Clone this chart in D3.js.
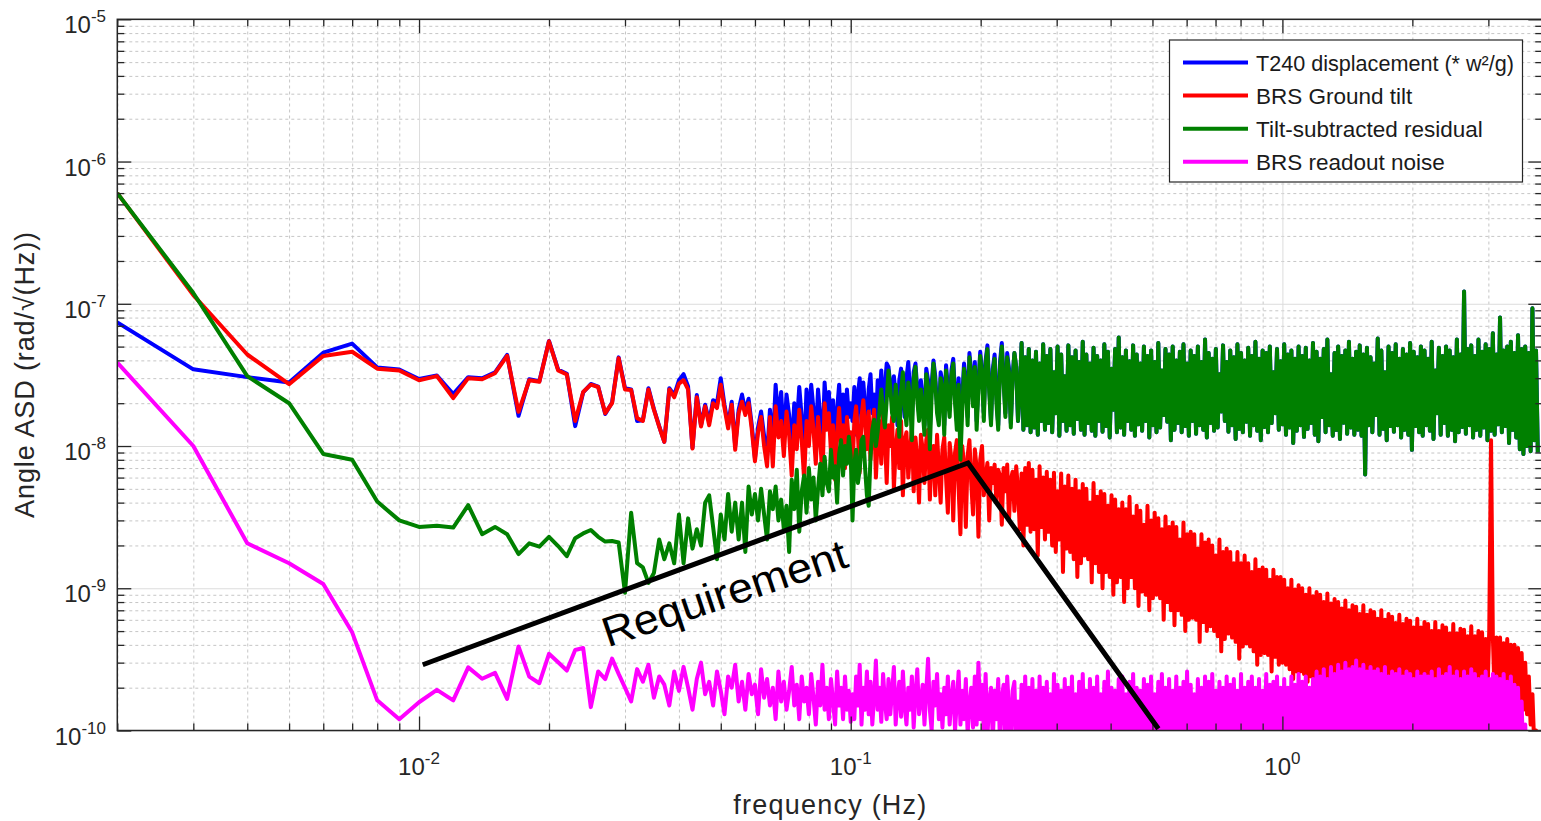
<!DOCTYPE html>
<html>
<head>
<meta charset="utf-8">
<script src="https://cdn.jsdelivr.net/npm/d3@7"></script>
<style>
  html, body { margin: 0; padding: 0; background: #ffffff; }
  svg { display: block; }
  text { font-family: "Liberation Sans", Arial, Helvetica, sans-serif; fill: #262626; }
</style>
</head>
<body>
<svg id="chart" width="1541" height="821"></svg>
<script>
// ---------------------------------------------------------------------------
// Spectra, in units of 1e-10 rad/sqrt(Hz).
// Low band: one value per 0.001 Hz bin, from 0.002 Hz to 0.100 Hz.
// High band: 240 values per decade, starting one step above 0.1 Hz.
// ---------------------------------------------------------------------------
const UNIT = 1e-10;
const BIN_HZ = 0.001;
const LOW_FIRST_BIN = 2;
const HIGH_START_HZ = 0.1;
const HIGH_PER_DECADE = 240;

const t240Low = [740,346,305,280,453,525,357,345,296,313,
  232,305,299,330,438,163,295,285,548,345,
  322,138,238,273,262,168,202,420,255,250,
  150,152,255,182,138,107,255,228,290,320,
  262,97,228,140,195,148,210,200,300,195,
  140,205,100,180,230,175,215,140,82,135,
  175,118,85,180,100,270,150,240,110,230,
  165,95,200,140,260,160,90,250,150,270,
  180,110,250,160,100,280,170,240,120,210,
  100,180,270,140,230,110,250,160,200];

const brsTiltLow = [6000,1150,440,272,430,460,350,340,290,310,
  217,300,295,325,430,174,290,283,545,340,
  318,150,240,270,260,170,200,415,250,248,
  157,150,250,180,137,107,250,220,275,290,
  250,96,220,137,190,140,200,185,270,185,
  133,195,94,170,205,165,200,130,78,125,
  160,100,72,160,72,190,115,150,85,175,
  120,62,140,95,180,110,58,150,100,190,
  130,75,160,110,60,200,130,170,90,140,
  58,120,185,100,140,70,160,110,125];

const residualLow = [6000,1190,310,200,88,80,40.7,30,27,27.5,
  26.7,38.4,24,27,24,17.4,20.7,19.6,23,19.8,
  16.8,22.5,24.3,25.7,23,21.3,21.5,21,9.3,34,
  15,14,10.9,12.8,22,16,20.7,15,33,15,
  31,19,26,20,40,45,27,16,33,22,
  46,25,40,22,40,18,52,33,46,30,
  50,33,22,48,36,52,30,42,26,38,
  18,58,36,68,25,48,62,34,70,42,
  60,30,50,75,45,84,55,48,94,60,
  72,40,88,110,62,100,75,116,85];

const readoutLow = [386,100,20.7,15,10.7,4.9,1.63,1.2,1.58,1.93,
  1.63,2.78,2.31,2.54,1.67,3.9,2.39,2.15,3.46,3.02,
  2.64,3.68,3.8,1.46,2.6,2.3,3.2,2.5,2.0,1.6,
  2.7,2.2,2.9,1.7,2.4,2.1,1.5,2.6,1.9,2.8,
  2.0,1.4,2.3,3.0,1.8,2.2,1.5,2.6,1.9,1.3,
  2.4,2.0,2.9,1.6,2.2,1.4,2.5,1.8,2.1,1.3,
  2.7,1.7,2.3,1.5,2.0,1.2,2.6,1.6,2.2,1.4,
  1.9,2.8,1.5,2.1,1.2,2.4,1.6,2.0,1.3,2.5,
  1.7,1.1,2.2,1.5,2.9,1.4,2.0,1.2,2.3,1.6,
  1.1,2.6,1.5,2.0,1.2,2.4,1.4,1.9,1.15];

const t240High = [150,260,120,230,300,140,280,190,110,250,
  320,170,230,130,290,210,340,150,260,380,
  360,270,200,310,230,140,290,350,220,160,
  300,390,240,150,330,380,250,170,290,210,
  140,350,290,130,270,400,310,190,160,330,
  280,140,370,260,180,340,410,230,150,300,
  120,220,380,290,160,450,320,210,390,150,
  280,460,330,170,400,510,260,150,350,440,
  230,140,390,530,300,170,450,350,145,310,
  450,360,150,240,530,130,420,140,480,125,
  400,135,460,120,380,150,520,130,430,145,
  480,125,330,170,500,118,440,150,310,128,
  510,140,420,122,470,155,390,130,540,120,
  440,145,380,128,490,118,430,150,400,126,
  520,138,460,115,350,180,480,125,580,135,
  420,120,470,150,395,130,510,118,440,142,
  380,128,500,150,430,115,470,140,390,125,
  530,135,340,165,480,148,440,110,500,130,
  400,145,460,125,520,138,380,118,470,150,
  430,122,500,140,390,130,560,115,450,145,
  410,128,480,135,320,175,510,150,390,126,
  470,140,420,112,520,132,450,125,400,148,
  490,118,430,140,540,128,410,110,470,136,
  450,125,500,145,330,170,480,130,395,142,
  520,120,440,135,470,105,410,128,500,140,
  430,116,490,132,400,145,530,120,460,108,
  410,160,480,125,560,140,320,118,450,130,
  500,112,430,146,470,122,540,135,410,120,
  460,130,510,118,440,63,490,140,420,125,
  380,165,570,120,470,132,330,110,500,138,
  450,126,520,140,410,115,480,130,440,120,
  530,94,460,138,420,125,500,118,470,140,
  410,128,540,112,340,170,490,120,430,145,
  500,118,470,130,420,108,560,125,440,136,
  1220,122,480,140,510,115,430,130,560,118,
  460,135,520,110,480,128,620,120,440,142,
  800,125,470,138,500,105,540,130,450,115,
  600,95,480,88,500,100,450,92,930,110,
  470,90];

const brsTiltHigh = [70,150,190,120,65,160,210,140,95,175,
  80,130,180,60,110,150,75,170,120,55,
  140,100,160,50,95,130,70,150,45,110,
  125,60,90,140,48,115,80,40,120,95,
  55,110,130,42,85,100,45,120,70,40,
  95,115,60,34,105,80,30,90,110,50,
  24,100,75,27,85,110,55,33,95,70,
  23,80,100,45,60,76,30,70,55,74,
  40,68,62,28,70,48,74,30,58,66,
  35,72,50,26,64,20,70,28,76,25,
  68,26,58,17,72,27,60,22,66,25,
  58,20,65,18,48,22,64,13,52,19,
  62,18,50,16,58,12,48,15,54,17,
  50,16,40,11,55,15,44,13,48,10,
  46,13,38,12,45,9,42,11,36,12,
  40,8,36,10,44,12,32,10,38,7.5,
  35,9.5,28,9,38,7,30,8.5,34,9,
  31,8.5,26,6,32,8,27,7,29,5.5,
  27,7,22,6.5,29,5,24,6,25,6.2,
  24,6,19,4.2,24,5.8,21,5,22,5.4,
  20,5,17,4.6,22,3.6,18,4.4,19,4.8,
  18,4.5,15,4.2,18,3.2,15,3.9,17,4.1,
  15,3.9,13,3.6,16,2.9,13.5,3.4,14,3.5,
  13.5,3.4,11.5,2.6,13.5,3.3,12,2.9,12,3.0,
  11.5,2.9,10,2.7,11.5,2.3,9.8,2.6,10.5,2.6,
  10,2.5,9,2.2,10,2.4,8.8,2.3,9.4,2.0,
  9,2.3,8,2.2,9.2,2.3,7.8,1.9,8.4,2.2,
  8,2.2,7.2,2.1,8.2,1.8,7,2.0,7.6,2.1,
  7.4,2.1,6.6,1.9,7.6,2.1,6.5,2.0,7,1.8,
  6.8,2.0,6.1,1.95,7,1.75,6.0,1.9,6.6,2.0,
  6.3,1.95,5.7,1.7,6.5,2.0,5.6,1.9,6.1,1.75,
  5.9,1.9,5.3,1.85,6.1,1.7,5.3,1.85,5.8,1.9,
  5.6,1.7,5.0,1.8,5.8,1.9,5.0,1.65,5.5,1.85,
  5.3,1.8,4.8,1.65,5.6,1.85,4.8,1.8,5.2,1.7,
  5.1,1.8,4.6,1.75,5.4,1.65,4.6,1.75,5.0,1.8,
  4.9,1.7,4.4,1.8,5.1,110,4.6,1.7,4.5,1.75,
  4.5,1.65,4.1,1.7,4.4,1.6,4.0,1.65,4.0,1.55,
  3.8,1.5,3.5,1.4,3.0,1.3,2.4,1.1,1.8,0.8,
  1.0,0.5];

const residualHigh = [30,75,94,55,68,110,116,70,45,38,
  84,130,153,100,126,180,250,170,135,210,
  340,260,170,150,270,200,116,240,330,190,
  140,280,220,110,300,360,210,150,250,180,
  120,320,260,95,230,380,280,170,140,300,
  250,120,340,220,160,310,380,200,130,270,
  80,180,350,260,140,420,300,190,360,130,
  250,430,310,150,380,480,240,140,330,410,
  200,130,360,500,280,160,420,330,135,290,
  450,360,150,240,530,130,420,140,480,125,
  400,135,460,120,380,150,520,130,430,145,
  480,125,330,170,500,118,440,150,310,128,
  510,140,420,122,470,155,390,130,540,120,
  440,145,380,128,490,118,430,150,400,126,
  520,138,460,115,350,180,480,125,580,135,
  420,120,470,150,395,130,510,118,440,142,
  380,128,500,150,430,115,470,140,390,125,
  530,135,340,165,480,148,440,110,500,130,
  400,145,460,125,520,138,380,118,470,150,
  430,122,500,140,390,130,560,115,450,145,
  410,128,480,135,320,175,510,150,390,126,
  470,140,420,112,520,132,450,125,400,148,
  490,118,430,140,540,128,410,110,470,136,
  450,125,500,145,330,170,480,130,395,142,
  520,120,440,135,470,105,410,128,500,140,
  430,116,490,132,400,145,530,120,460,108,
  410,160,480,125,560,140,320,118,450,130,
  500,112,430,146,470,122,540,135,410,120,
  460,130,510,118,440,63,490,140,420,125,
  380,165,570,120,470,132,330,110,500,138,
  450,126,520,140,410,115,480,130,440,120,
  530,94,460,138,420,125,500,118,470,140,
  410,128,540,112,340,170,490,120,430,145,
  500,118,470,130,420,108,560,125,440,136,
  1220,122,480,140,510,115,430,130,560,118,
  460,135,520,110,480,128,620,120,440,142,
  800,125,470,138,500,105,540,130,450,115,
  600,95,480,88,500,100,450,92,930,110,
  470,90];

const readoutHigh = [1.8,1.2,2.4,1.5,2.9,1.1,2.0,1.4,2.6,1.3,
  2.2,1.1,1.7,3.1,1.4,2.0,1.15,2.5,1.6,1.2,
  2.3,1.3,1.9,2.8,1.1,1.7,2.2,1.25,2.6,1.5,
  1.1,2.0,1.4,2.4,1.05,1.8,2.7,1.3,1.6,2.1,
  1.1,1.9,3.2,1.4,1.0,2.2,1.5,2.5,1.2,1.8,
  1.05,2.0,1.3,2.4,1.1,1.7,2.2,1.0,1.6,2.6,
  1.1,1.9,1.2,2.3,0.95,1.5,2.0,1.05,2.4,1.1,
  3.0,1.2,2.1,1.0,2.5,0.9,1.6,2.0,0.85,1.9,
  1.2,2.3,0.8,1.7,2.1,0.8,2.4,1.4,0.7,1.9,
  2.2,0.75,1.6,0.8,2.1,0.7,2.4,0.75,2.0,0.65,
  2.3,0.7,1.9,0.6,2.4,0.75,2.0,0.65,2.2,0.7,
  1.8,0.6,2.5,0.7,2.1,0.65,1.9,0.75,2.3,0.6,
  2.0,0.7,2.4,0.65,1.8,0.75,2.2,0.6,2.5,0.7,
  1.9,0.65,2.3,0.7,2.0,0.6,2.4,0.75,1.8,0.65,
  2.2,0.7,2.6,0.6,2.0,0.7,1.9,0.65,2.3,0.75,
  2.4,0.6,1.8,0.7,2.2,0.65,2.5,0.7,2.0,0.6,
  1.9,0.75,2.3,0.65,2.1,0.7,2.4,0.6,1.8,0.7,
  2.2,0.65,2.5,0.7,2.0,0.6,2.3,0.75,1.9,0.65,
  2.4,0.7,2.0,0.6,2.2,0.7,2.6,0.65,2.1,0.7,
  1.8,0.6,2.3,0.75,2.0,0.65,2.4,0.7,2.2,0.6,
  2.5,0.7,1.9,0.65,2.2,0.7,2.0,0.6,2.4,0.75,
  2.1,0.65,2.3,0.7,1.9,0.6,2.5,0.7,2.0,0.65,
  2.2,0.7,2.4,0.6,2.0,0.75,2.3,0.65,1.9,0.7,
  2.5,0.6,2.1,0.7,2.2,0.65,2.4,0.7,2.0,0.6,
  2.3,0.7,2.0,0.65,2.4,0.7,2.1,0.6,2.5,0.75,
  2.2,0.65,2.4,0.7,2.0,0.6,2.3,0.7,2.6,0.65,
  2.4,0.75,2.7,0.7,2.3,0.8,2.8,0.75,2.5,0.8,
  2.9,0.8,2.6,0.85,3.0,0.8,2.7,0.9,2.8,0.8,
  3.1,0.85,2.7,0.8,2.9,0.9,2.6,0.8,2.8,0.85,
  2.6,0.8,2.7,0.85,2.5,0.8,2.8,0.75,2.4,0.8,
  2.6,0.75,2.5,0.8,2.7,0.7,2.4,0.8,2.6,0.75,
  2.5,0.8,2.3,0.75,2.6,0.8,2.4,0.7,2.5,0.75,
  2.4,0.7,2.6,0.8,2.3,0.75,2.7,0.7,2.4,0.8,
  2.5,0.75,2.8,0.7,2.4,0.8,2.6,0.75,2.3,0.7,
  2.6,0.8,2.4,0.75,2.7,0.7,2.5,0.8,2.3,0.75,
  2.4,0.7,2.6,0.8,2.3,0.75,2.5,0.7,2.4,0.8,
  2.3,0.75,2.5,0.7,2.2,0.75,2.4,0.7,2.1,0.65,
  2.0,0.6,1.6,0.55,1.1,0.5,0.7,0.45,0.5,0.4,
  0.35,0.3];

// Requirement curve (Hz, rad/sqrt(Hz))
const requirementFreq = [0.0102, 0.187, 0.516];
const requirementVal = [2.9e-10, 7.6e-9, 1.03e-10];
const requirementLabel = "Requirement";

// Axes
const xDomain = [0.002, 4];
const yDomain = [1e-10, 1e-5];
const xTickExponents = [-2, -1, 0];
const yTickExponents = [-10, -9, -8, -7, -6, -5];
const xTitle = "frequency (Hz)";
const yTitle = "Angle ASD (rad/\u221A(Hz))";

// Legend / series
const seriesNames = ["T240 displacement (* w\u00B2/g)", "BRS Ground tilt", "Tilt-subtracted residual", "BRS readout noise"];
const seriesColors = ["#0000ff", "#ff0000", "#008000", "#ff00ff"];

// ---------------------------------------------------------------------------
const svg = d3.select("#chart");
const box = { left: 117.3, right: 1542.3, top: 19.3, bottom: 730.5 };
const plotW = box.right - box.left, plotH = box.bottom - box.top;
const axisColor = "#262626";

const x = d3.scaleLog().domain(xDomain).range([box.left, box.right]);
const y = d3.scaleLog().domain(yDomain).range([box.bottom, box.top]);

const lowFreq = d3.range(t240Low.length).map(i => (LOW_FIRST_BIN + i) * BIN_HZ);
const highFreq = d3.range(t240High.length).map(i => HIGH_START_HZ * Math.pow(10, (i + 1) / HIGH_PER_DECADE));

function buildSeries(low, high) {
  return lowFreq.map((f, i) => ({ f, v: low[i] * UNIT }))
    .concat(highFreq.map((f, i) => ({ f, v: high[i] * UNIT })));
}
const allSeries = [
  buildSeries(t240Low, t240High),
  buildSeries(brsTiltLow, brsTiltHigh),
  buildSeries(residualLow, residualHigh),
  buildSeries(readoutLow, readoutHigh)
];

function minorTicks(lo, hi) {
  const out = [];
  for (let e = Math.floor(Math.log10(lo)); e <= Math.ceil(Math.log10(hi)); e++) {
    for (let m = 2; m <= 9; m++) {
      const v = m * Math.pow(10, e);
      if (v >= lo * 0.999 && v <= hi * 1.001) out.push(v);
    }
  }
  return out;
}
const xMajor = xTickExponents.map(e => Math.pow(10, e));
const yMajor = yTickExponents.map(e => Math.pow(10, e));
const xMinor = minorTicks(xDomain[0], xDomain[1]);
const yMinor = minorTicks(yDomain[0], yDomain[1]);

// ---- grid -----------------------------------------------------------------
function styleGrid(g, color, dash) {
  g.select(".domain").remove();
  g.selectAll(".tick line").attr("stroke", color).attr("stroke-width", 1)
    .attr("stroke-dasharray", dash);
  g.selectAll(".tick text").remove();
}
const grid = svg.append("g");
grid.append("g").attr("transform", `translate(0,${box.bottom})`)
  .call(d3.axisBottom(x).tickValues(xMinor).tickSize(-plotH).tickFormat(""))
  .call(g => styleGrid(g, "#c6c6c6", "3,3"));
grid.append("g").attr("transform", `translate(${box.left},0)`)
  .call(d3.axisLeft(y).tickValues(yMinor).tickSize(-plotW).tickFormat(""))
  .call(g => styleGrid(g, "#c6c6c6", "3,3"));
grid.append("g").attr("transform", `translate(0,${box.bottom})`)
  .call(d3.axisBottom(x).tickValues(xMajor).tickSize(-plotH).tickFormat(""))
  .call(g => styleGrid(g, "#dcdcdc", null));
grid.append("g").attr("transform", `translate(${box.left},0)`)
  .call(d3.axisLeft(y).tickValues(yMajor).tickSize(-plotW).tickFormat(""))
  .call(g => styleGrid(g, "#dcdcdc", null));

// ---- data -----------------------------------------------------------------
svg.append("clipPath").attr("id", "plot-clip")
  .append("rect").attr("x", box.left).attr("y", box.top)
  .attr("width", plotW).attr("height", plotH);

const line = d3.line().x(d => x(d.f)).y(d => y(d.v));
svg.append("g").attr("clip-path", "url(#plot-clip)")
  .selectAll("path").data(allSeries).join("path")
  .attr("d", line)
  .attr("fill", "none")
  .attr("stroke", (d, i) => seriesColors[i])
  .attr("stroke-width", 4)
  .attr("stroke-linejoin", "round");

// ---- axes (ticks point inward on all four sides) ---------------------------
function styleTicks(g) {
  g.select(".domain").remove();
  g.selectAll(".tick line").attr("stroke", axisColor).attr("stroke-width", 1.3);
  g.selectAll(".tick text").remove();
}
const axes = svg.append("g");
const majorLen = 14, minorLen = 7;
[[d3.axisBottom, box.bottom], [d3.axisTop, box.top]].forEach(([ax, pos]) => {
  axes.append("g").attr("transform", `translate(0,${pos})`)
    .call(ax(x).tickValues(xMajor).tickSize(-majorLen)).call(styleTicks);
  axes.append("g").attr("transform", `translate(0,${pos})`)
    .call(ax(x).tickValues(xMinor).tickSize(-minorLen)).call(styleTicks);
});
[[d3.axisLeft, box.left], [d3.axisRight, box.right]].forEach(([ax, pos]) => {
  axes.append("g").attr("transform", `translate(${pos},0)`)
    .call(ax(y).tickValues(yMajor).tickSize(-majorLen)).call(styleTicks);
  axes.append("g").attr("transform", `translate(${pos},0)`)
    .call(ax(y).tickValues(yMinor).tickSize(-minorLen)).call(styleTicks);
});
axes.append("rect").attr("x", box.left).attr("y", box.top)
  .attr("width", plotW).attr("height", plotH)
  .attr("fill", "none").attr("stroke", axisColor).attr("stroke-width", 1.5);

// ---- tick labels: 10 with superscript exponent -----------------------------
function powerLabel(sel, exp) {
  sel.append("tspan").text("10");
  sel.append("tspan").attr("dy", -11).attr("font-size", 17).text(exp);
}
svg.append("g").selectAll("text").data(xTickExponents).join("text")
  .attr("x", d => x(Math.pow(10, d))).attr("y", box.bottom + 44.5)
  .attr("text-anchor", "middle").attr("font-size", 24)
  .each(function (d) { powerLabel(d3.select(this), d); });
svg.append("g").selectAll("text").data(yTickExponents).join("text")
  .attr("x", 106).attr("y", d => y(Math.pow(10, d)) + 14)
  .attr("text-anchor", "end").attr("font-size", 24)
  .each(function (d) { powerLabel(d3.select(this), d); });

// ---- axis titles -----------------------------------------------------------
svg.append("text").attr("x", (box.left + box.right) / 2).attr("y", 813.5)
  .attr("text-anchor", "middle").attr("font-size", 27)
  .attr("textLength", 193).attr("lengthAdjust", "spacing").text(xTitle);
svg.append("text")
  .attr("transform", `translate(33.5,${(box.top + box.bottom) / 2}) rotate(-90)`)
  .attr("text-anchor", "middle").attr("font-size", 27)
  .attr("textLength", 286).attr("lengthAdjust", "spacing").text(yTitle);

// ---- requirement annotation -------------------------------------------------
const reqPts = requirementFreq.map((f, i) => ({ f, v: requirementVal[i] }));
svg.append("path").datum(reqPts).attr("d", line)
  .attr("fill", "none").attr("stroke", "#000000").attr("stroke-width", 5)
  .attr("stroke-linejoin", "miter");
svg.append("text")
  .attr("transform", "translate(729,607) rotate(-18.5)")
  .attr("text-anchor", "middle")
  .attr("font-family", "Lato, 'Open Sans', sans-serif")
  .attr("font-size", 42).attr("textLength", 256).attr("lengthAdjust", "spacingAndGlyphs")
  .style("fill", "#000000")
  .text(requirementLabel);

// ---- legend -----------------------------------------------------------------
const legend = svg.append("g");
legend.append("rect").attr("x", 1169.5).attr("y", 40).attr("width", 353).attr("height", 142)
  .attr("fill", "#ffffff").attr("stroke", axisColor).attr("stroke-width", 1.2);
const rows = legend.selectAll("g.row").data(seriesNames).join("g").attr("class", "row")
  .attr("transform", (d, i) => `translate(0,${62.5 + i * 33.1})`);
rows.append("line").attr("x1", 1183).attr("x2", 1248)
  .attr("stroke", (d, i) => seriesColors[i]).attr("stroke-width", 4);
rows.append("text").attr("x", 1256).attr("y", 8.5).attr("font-size", 22.5)
  .style("fill", "#1a1a1a")
  .text(d => d)
  .each(function (d, i) {
    if (i === 0) d3.select(this).attr("textLength", 258).attr("lengthAdjust", "spacingAndGlyphs");
  });
</script>
</body>
</html>
